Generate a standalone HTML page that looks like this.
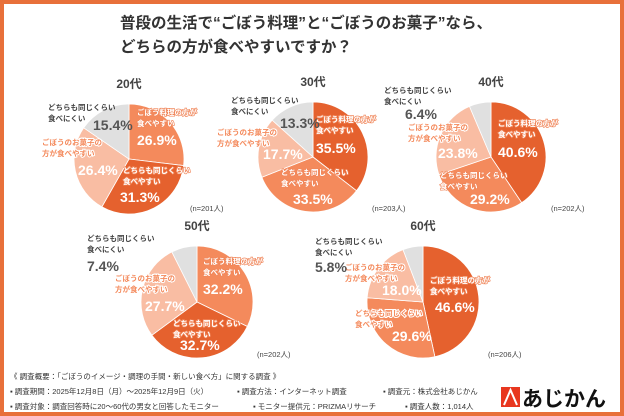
<!DOCTYPE html>
<html><head><meta charset="utf-8"><style>
body{margin:0;width:624px;height:416px;overflow:hidden;background:#fff;font-family:"Liberation Sans","Noto Sans CJK JP",sans-serif;}
#f{position:absolute;left:0;top:0;width:616px;height:408px;border:4px solid #e8703a;background:#fff;}
svg{position:absolute;left:0;top:0}
</style></head><body>
<div id="f"></div>
<svg id="s" width="624" height="416" xmlns="http://www.w3.org/2000/svg" font-family="Liberation Sans, Noto Sans CJK JP, sans-serif">
<text x="120" y="28" font-size="15.5" font-weight="bold" fill="#333">普段の生活で“ごぼう料理”と“ごぼうのお菓子”なら、</text>
<text x="120" y="52" font-size="15.5" font-weight="bold" fill="#333">どちらの方が食べやすいですか？</text>
<g id="pies"></g>
<g font-size="7.5" fill="#333">
<text x="10" y="379">《 調査概要：「ごぼうのイメージ・調理の手間・新しい食べ方」に関する調査 》</text>
<text x="10" y="394">▪ 調査期間：2025年12月8日（月）～2025年12月9日（火）</text>
<text x="237" y="394">▪ 調査方法：インターネット調査</text>
<text x="383" y="394">▪ 調査元：株式会社あじかん</text>
<text x="10" y="409">▪ 調査対象：調査回答時に20～60代の男女と回答したモニター</text>
<text x="253" y="409">▪ モニター提供元：PRIZMAリサーチ</text>
<text x="405" y="409">▪ 調査人数：1,014人</text>
</g>
<rect x="501" y="387" width="19" height="20" fill="#e8371f"/>
<path d="M504 405 L510.5 390 L517 405" stroke="#fff" stroke-width="2" fill="none"/>
<text x="522" y="406" font-size="21" font-weight="bold" fill="#111">あじかん</text>
</svg>
<script>
var D='#e5612e',M='#f48a5c',L='#f9bda3',G='#e0e0e0';
var R1='ごぼう料理の方が',R2='食べやすい',S1='どちらも同じくらい',S2='食べやすい',K1='ごぼうのお菓子の',K2='方が食べやすい',N1='どちらも同じくらい',N2='食べにくい';
var pies=[
{t:'20代',cx:129,cy:159,r:55,n:'(n=201人)',nx:190,ny:211,v:[26.9,31.3,26.4,15.4],c:[M,D,L,G],
 lab:[[137,115,R1,R2,'w',137,145],[123,173,S1,S2,'w',120,202],[42,145,K1,K2,'o',78,175],[48,110,N1,N2,'g',93,130]],
 pc:['26.9%','31.3%','26.4%','15.4%']},
{t:'30代',cx:313,cy:157,r:55,n:'(n=203人)',nx:372,ny:211,v:[35.5,33.5,17.7,13.3],c:[D,M,L,G],
 lab:[[316,122,R1,R2,'w',316,153],[281,175,S1,S2,'w',293,204],[217,135,K1,K2,'o',263,159],[231,103,N1,N2,'g',280,128]],
 pc:['35.5%','33.5%','17.7%','13.3%']},
{t:'40代',cx:491,cy:157,r:55,n:'(n=202人)',nx:551,ny:211,v:[40.6,29.2,23.8,6.4],c:[D,M,L,G],
 lab:[[498,126,R1,R2,'w',498,157],[440,178,S1,S2,'w',470,204],[408,130,K1,K2,'o',438,158],[384,93,N1,N2,'g',405,119]],
 pc:['40.6%','29.2%','23.8%','6.4%']},
{t:'50代',cx:197,cy:302,r:56,n:'(n=202人)',nx:257,ny:357,v:[32.2,32.7,27.7,7.4],c:[M,D,L,G],
 lab:[[203,264,R1,R2,'w',203,294],[173,326,S1,S2,'w',180,350],[115,281,K1,K2,'o',145,311],[87,241,N1,N2,'g',87,271]],
 pc:['32.2%','32.7%','27.7%','7.4%']},
{t:'60代',cx:423,cy:302,r:56,n:'(n=206人)',nx:488,ny:357,v:[46.6,29.6,18.0,5.8],c:[D,M,L,G],
 lab:[[430,283,R1,R2,'w',435,312],[355,316,S1,S2,'o',392,341],[345,270,K1,K2,'o',382,295],[315,244,N1,N2,'g',315,272]],
 pc:['46.6%','29.6%','18.0%','5.8%']}
];
var h='';
pies.forEach(function(p){
 var a=-Math.PI/2;
 h+='<text x="'+p.cx+'" y="'+(p.cy-p.r-16)+'" font-size="12" font-weight="bold" fill="#444" text-anchor="middle">'+p.t+'</text>';
 p.v.forEach(function(v,i){
  var b=a+v/100*2*Math.PI;
  var x1=p.cx+p.r*Math.cos(a),y1=p.cy+p.r*Math.sin(a),x2=p.cx+p.r*Math.cos(b),y2=p.cy+p.r*Math.sin(b);
  h+='<path d="M'+p.cx+' '+p.cy+'L'+x1.toFixed(2)+' '+y1.toFixed(2)+'A'+p.r+' '+p.r+' 0 '+((b-a)>Math.PI?1:0)+' 1 '+x2.toFixed(2)+' '+y2.toFixed(2)+'Z" fill="'+p.c[i]+'" stroke="#fff" stroke-width="0.8"/>';
  a=b;
 });
 p.lab.forEach(function(l,i){
  var fill,st='';
  if(l[4]=='w'){fill='#fff';st=' stroke="#f0865a" stroke-width="1.4" paint-order="stroke"';}
  else if(l[4]=='o'){fill='#f48a5c';st=' stroke="#fff" stroke-width="2" paint-order="stroke"';}
  else {fill='#444';}
  h+='<text x="'+l[0]+'" y="'+l[1]+'" font-size="7.5" font-weight="bold" fill="'+fill+'"'+st+'>'+l[2]+'</text>';
  h+='<text x="'+l[0]+'" y="'+(l[1]+11)+'" font-size="7.5" font-weight="bold" fill="'+fill+'"'+st+'>'+l[3]+'</text>';
  h+='<text x="'+l[5]+'" y="'+l[6]+'" font-size="14" font-weight="bold" fill="'+(l[4]=='g'?'#555':'#fff')+'">'+p.pc[i]+'</text>';
 });
 h+='<text x="'+p.nx+'" y="'+p.ny+'" font-size="7.5" fill="#444">'+p.n+'</text>';
});
document.getElementById('pies').innerHTML=h;
</script>
</body></html>
